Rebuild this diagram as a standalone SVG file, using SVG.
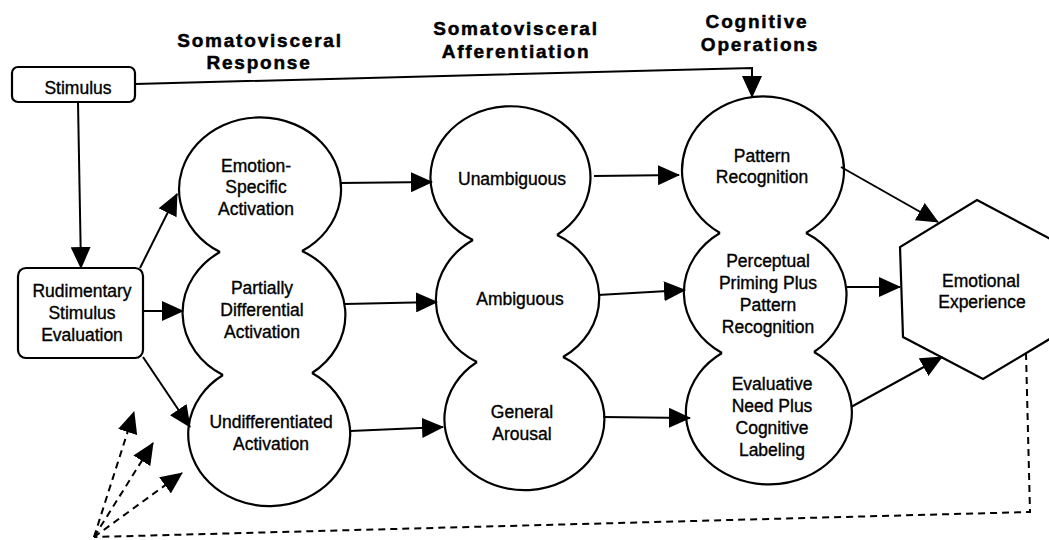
<svg xmlns="http://www.w3.org/2000/svg" width="1049" height="540" viewBox="0 0 1049 540">
<style>
.ln{fill:none;stroke:#000;stroke-width:2}
.ds{fill:none;stroke:#000;stroke-width:2;stroke-dasharray:7,5}
.sh{fill:none;stroke:#000;stroke-width:2.2}
.box{fill:#fff;stroke:#000;stroke-width:2.2}
.t{font-family:"Liberation Sans",Arial,sans-serif;font-size:17.5px;fill:#000;stroke:#000;stroke-width:0.35;text-anchor:middle}
.h{font-family:"Liberation Sans",Arial,sans-serif;font-size:19px;font-weight:bold;letter-spacing:1.8px;fill:#000;stroke:#000;stroke-width:0.5;text-anchor:middle}
</style>
<defs>
<marker id="ah" markerUnits="userSpaceOnUse" markerWidth="22" markerHeight="20" refX="21" refY="10" orient="auto" viewBox="0 0 22 20"><path d="M0,0 L22,10 L0,20 z" fill="#000"/></marker>
</defs>
<rect width="1049" height="540" fill="#fff"/>

<g id="headings">
<text class="h" x="260" y="47">Somatovisceral</text>
<text class="h" x="259" y="69">Response</text>
<text class="h" x="516" y="35">Somatovisceral</text>
<text class="h" x="516" y="58">Afferentiation</text>
<text class="h" x="757" y="28">Cognitive</text>
<text class="h" x="760" y="51">Operations</text>
</g>

<g id="connectors">
<polyline class="ln" points="135,84 752,68 752,97" marker-end="url(#ah)"/>
<line class="ln" x1="78" y1="102" x2="81" y2="268" marker-end="url(#ah)"/>
<line class="ln" x1="140" y1="268" x2="177" y2="194" marker-end="url(#ah)"/>
<line class="ln" x1="143" y1="311" x2="183" y2="311" marker-end="url(#ah)"/>
<line class="ln" x1="143" y1="357" x2="190" y2="427" marker-end="url(#ah)"/>
<line class="ln" x1="340" y1="183" x2="432" y2="182" marker-end="url(#ah)"/>
<line class="ln" x1="345" y1="304" x2="437" y2="302" marker-end="url(#ah)"/>
<line class="ln" x1="350" y1="431" x2="443" y2="427" marker-end="url(#ah)"/>
<line class="ln" x1="594" y1="176" x2="679" y2="175" marker-end="url(#ah)"/>
<line class="ln" x1="598" y1="295" x2="685" y2="290" marker-end="url(#ah)"/>
<line class="ln" x1="603" y1="417" x2="690" y2="418" marker-end="url(#ah)"/>
<line class="ln" x1="841" y1="167" x2="938" y2="222" marker-end="url(#ah)"/>
<line class="ln" x1="846" y1="287" x2="900" y2="287" marker-end="url(#ah)"/>
<line class="ln" x1="851" y1="407" x2="942" y2="357" marker-end="url(#ah)"/>
<polyline class="ds" points="1026,353 1030,512 94,537"/>
<line class="ds" x1="94" y1="537" x2="134" y2="412" marker-end="url(#ah)"/>
<line class="ds" x1="94" y1="537" x2="153" y2="443" marker-end="url(#ah)"/>
<line class="ds" x1="94" y1="537" x2="182" y2="473" marker-end="url(#ah)"/>
</g>

<g id="stimulus">
<rect class="box" x="12" y="67" width="123" height="35" rx="6"/>
<text class="t" x="78" y="94">Stimulus</text>
</g>

<g id="rudimentary">
<rect class="box" x="18" y="268" width="125" height="90" rx="8"/>
<text class="t" x="82" y="297">Rudimentary</text>
<text class="t" x="82" y="319">Stimulus</text>
<text class="t" x="82" y="341">Evaluation</text>
</g>

<g id="emotion-specific">
<path class="sh" d="M220,252 A81,72 0 1,1 302,251"/>
<text class="t" x="256" y="172">Emotion-</text>
<text class="t" x="256" y="193">Specific</text>
<text class="t" x="256" y="215">Activation</text>
</g>
<g id="partially-differential">
<path class="sh" d="M220,252 A81,72 0 0,0 223,375 M302,251 A81,72 0 0,1 312,373"/>
<text class="t" x="262" y="294">Partially</text>
<text class="t" x="262" y="316">Differential</text>
<text class="t" x="262" y="338">Activation</text>
</g>
<g id="undifferentiated">
<path class="sh" d="M223,375 A81,72 0 1,0 312,373"/>
<text class="t" x="271" y="428">Undifferentiated</text>
<text class="t" x="271" y="450">Activation</text>
</g>

<g id="unambiguous">
<path class="sh" d="M473,240 A80,71 0 1,1 557,235"/>
<text class="t" x="512" y="185">Unambiguous</text>
</g>
<g id="ambiguous">
<path class="sh" d="M473,240 A80,71 0 0,0 477,362 M557,235 A80,71 0 0,1 563,357"/>
<text class="t" x="520" y="305">Ambiguous</text>
</g>
<g id="general-arousal">
<path class="sh" d="M477,362 A80,71 0 1,0 563,357"/>
<text class="t" x="522" y="418">General</text>
<text class="t" x="522" y="440">Arousal</text>
</g>

<g id="pattern-recognition">
<path class="sh" d="M720,233 A81,74 0 1,1 806,233"/>
<text class="t" x="762" y="162">Pattern</text>
<text class="t" x="762" y="183">Recognition</text>
</g>
<g id="perceptual-priming">
<path class="sh" d="M720,233 A83,72 0 0,0 722,353 M806,233 A83,72 0 0,1 814,352"/>
<text class="t" x="768" y="267">Perceptual</text>
<text class="t" x="768" y="289">Priming Plus</text>
<text class="t" x="768" y="311">Pattern</text>
<text class="t" x="768" y="333">Recognition</text>
</g>
<g id="evaluative-need">
<path class="sh" d="M722,353 A83,72 0 1,0 814,352"/>
<text class="t" x="772" y="390">Evaluative</text>
<text class="t" x="772" y="412">Need Plus</text>
<text class="t" x="772" y="434">Cognitive</text>
<text class="t" x="772" y="456">Labeling</text>
</g>

<g id="emotional-experience">
<polygon class="sh" points="977,200 1054,241 1058,334 983,379 903,337 900,247"/>
<text class="t" x="981" y="287">Emotional</text>
<text class="t" x="982" y="308">Experience</text>
</g>
</svg>
